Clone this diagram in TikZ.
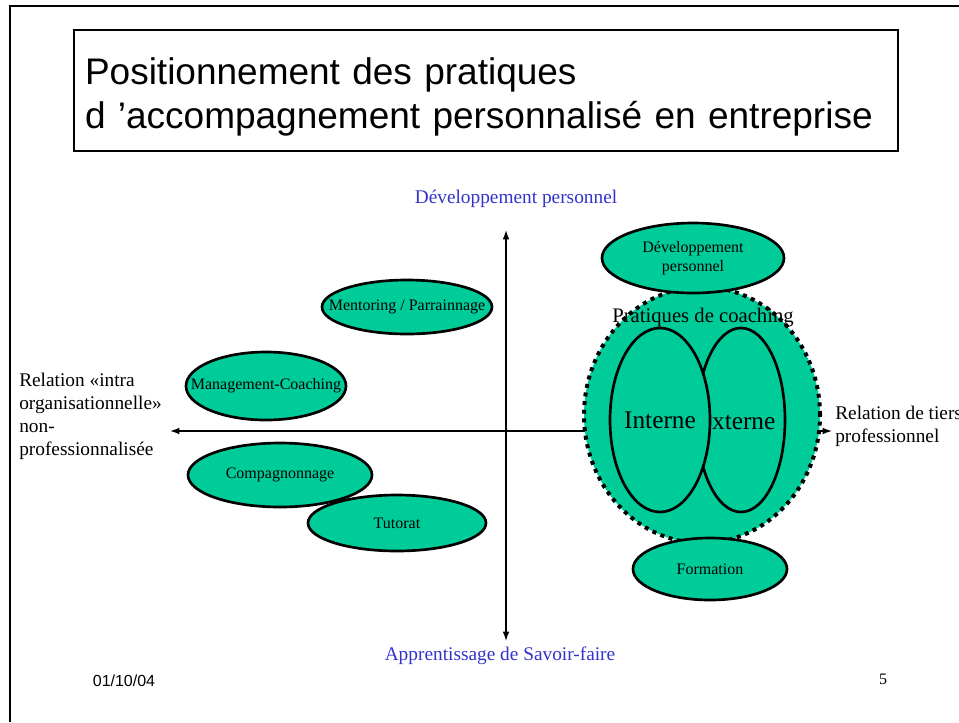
\documentclass[tikz,border=0pt]{standalone}
\usepackage{fontspec}
\setmainfont{Liberation Serif}
\newfontfamily\titlefont{Liberation Sans}
\usetikzlibrary{shapes.geometric,arrows.meta}
\definecolor{vert}{RGB}{0,204,153}
\definecolor{bleu}{RGB}{51,51,204}
\newcommand{\lbl}[1]{\makebox[0pt]{#1}}
\tikzset{
  bulle/.style={ellipse,draw,fill=vert,line width=2pt,inner sep=0pt,font=\fontsize{12}{14}\selectfont},
  axe/.style={line width=1pt,{Latex[length=7pt,width=5pt]}-{Latex[length=7pt,width=5pt]}},
  axelabel/.style={text=bleu,font=\fontsize{14.5}{17}\selectfont},
  relation/.style={font=\fontsize{14.5}{17.25}\selectfont,align=left,inner sep=0pt}
}
\begin{document}
\begin{tikzpicture}[x=0.75pt,y=-0.75pt]
\useasboundingbox (0,0) rectangle (959,722);
% cadre de la diapositive
\draw[line width=1.5pt] (10,722) -- (10,6) -- (959,6);
\node[draw,line width=2.2pt,text width=601.5pt,inner xsep=8.25pt,minimum height=90.75pt,align=left,
  font=\titlefont\fontsize{27.75}{32.5}\selectfont] (titre) at (486,90.5)
  {\rule{0pt}{30pt}Positionnement des pratiques\\d ’accompagnement personnalisé en entreprise};

% axes
\coordinate (haut) at (506,230);
\coordinate (bas) at (506,641);
\coordinate (gauche) at (170,431);
\coordinate (droite) at (832,431);
\draw[axe] (bas) -- (haut);
\draw[axe] (gauche) -- (droite);
\node[axelabel] (devperso) at (516,199) {Développement personnel};
\node[axelabel] (savoirfaire) at (500,656) {Apprentissage de Savoir-faire};
\node[relation,anchor=north west] (intra) at (19,373)
  {Relation «intra\\organisationnelle»\\non-\\professionnalisée};
\node[relation,anchor=north west] (tiers) at (835,406) {Relation de tiers\\professionnel};

% pratiques internes
\node[bulle,minimum width=127.5pt,minimum height=40.5pt] (mentoring) at (407,307) {\lbl{Mentoring / Parrainnage}};
\node[bulle,minimum width=120pt,minimum height=51pt] (management) at (266,386) {\lbl{Management-Coaching}};
\node[bulle,minimum width=138pt,minimum height=48pt] (compagnon) at (280,475) {\lbl{Compagnonnage}};
\node[bulle,minimum width=133.5pt,minimum height=42pt] (tutorat) at (397,523) {\lbl{Tutorat}};

% pratiques de coaching
\node[ellipse,draw,fill=vert,line width=3pt,dash pattern=on 3pt off 3.5pt,
  minimum width=177pt,minimum height=192pt] (coaching) at (702,415) {};
\node[bulle,align=center,minimum width=136.5pt,minimum height=52.5pt] (devbulle) at (693,258)
  {\lbl{Développement}\\\lbl{personnel}};
\node[bulle,minimum width=115.5pt,minimum height=46.5pt] (formation) at (710,569) {\lbl{Formation}};
\node[font=\fontsize{15.5}{18}\selectfont] (pratiques) at (703,318) {Pratiques de coaching};
\node[bulle,minimum width=66pt,minimum height=138pt] (externe) at (741,420) {};
\node[font=\fontsize{19}{22}\selectfont] (txtexterne) at (736,421) {Externe};
\node[bulle,minimum width=75pt,minimum height=138pt,font=\fontsize{19}{22}\selectfont] (interne) at (660,420) {\lbl{Interne}};

% pied de page
\node[font=\titlefont\fontsize{12}{14}\selectfont] (date) at (124,681) {01/10/04};
\node[font=\fontsize{12}{14}\selectfont] (page) at (883,679) {5};
\end{tikzpicture}
\end{document}
